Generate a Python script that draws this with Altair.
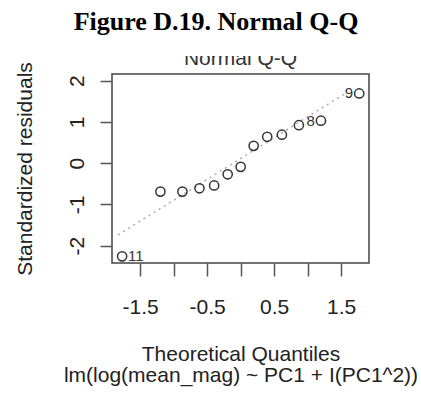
import altair as alt
import pandas as pd

# Normal Q-Q of standardized residuals, lm(log(mean_mag) ~ PC1 + I(PC1^2))
theoretical = [-1.769, -1.198, -0.869, -0.615, -0.396, -0.194, 0.0,
               0.194, 0.396, 0.615, 0.869, 1.198, 1.769]
std_resid = [-2.26, -0.69, -0.69, -0.61, -0.54, -0.27, -0.09,
             0.42, 0.64, 0.69, 0.92, 1.03, 1.69]

# flagged observations: (theoretical, residual, id)
right_ids = [(-1.769, -2.26, "11")]
left_ids = [(1.198, 1.03, "8"), (1.769, 1.69, "9")]

# reference (qqline) segment
ref_x = [-1.83, 1.55]
ref_y = [-1.74, 1.68]

x_ticks = [-1.5, -1.0, -0.5, 0.0, 0.5, 1.0, 1.5]
x_labelled = [-1.5, -0.5, 0.5, 1.5]
y_ticks = [-2, -1, 0, 1, 2]

fig_title = "Figure D.19. Normal Q-Q"
panel_title = "Normal Q-Q"
x_title = ["Theoretical Quantiles", "lm(log(mean_mag) ~ PC1 + I(PC1^2))"]
y_title = "Standardized residuals"

W, H = 257, 189
SANS = "Liberation Sans"
FS = 21

pts = pd.DataFrame({"q": theoretical, "r": std_resid})
ref = pd.DataFrame({"q": ref_x, "r": ref_y})
lab_r = pd.DataFrame(right_ids, columns=["q", "r", "id"])
lab_l = pd.DataFrame(left_ids, columns=["q", "r", "id"])

label_test = " || ".join(f"datum.value == {v}" for v in x_labelled)

xs = alt.Scale(domain=[-1.92, 1.915], nice=False, zero=False)
ys = alt.Scale(domain=[-2.421, 2.162], nice=False, zero=False)

x_enc = alt.X(
    "q:Q", scale=xs,
    axis=alt.Axis(
        values=x_ticks, labelExpr=f"({label_test}) ? '' + datum.value : ''",
        grid=False, domain=False, tickSize=13, tickWidth=1.5, tickColor="#555",
        labelFont=SANS, labelFontSize=FS, labelColor="#222", labelFlush=False,
        labelOverlap=False, labelBaseline="alphabetic", labelPadding=37,
        title=x_title, titleFont=SANS, titleFontSize=FS, titleFontWeight="normal",
        titleColor="#222", titleAlign="center", titleBaseline="alphabetic",
        titleX=W / 2, titleY=97, titleLineHeight=21,
    ),
)
y_enc = alt.Y(
    "r:Q", scale=ys,
    axis=alt.Axis(
        values=y_ticks, labelExpr="'' + datum.value",
        grid=False, domain=False, tickSize=12, tickWidth=1.5,
        tickColor="#555", labelFont=SANS, labelFontSize=FS, labelColor="#222",
        labelAngle=270, labelAlign="center", labelBaseline="alphabetic",
        labelPadding=17, labelFlush=False, labelOverlap=False,
        title=y_title, titleFont=SANS, titleFontSize=FS, titleFontWeight="normal",
        titleColor="#222", titleAngle=270, titleAlign="center",
        titleBaseline="alphabetic", titleX=-81, titleY=H / 2,
    ),
)

base = alt.Chart(pts)

points = base.mark_point(
    shape="circle", filled=False, size=85, strokeWidth=1.5, color="#333", opacity=1
).encode(x=x_enc, y=y_enc)

ref_line = alt.Chart(ref).mark_line(
    color="#aaa", strokeWidth=1.5, strokeDash=[2, 4]
).encode(x=alt.X("q:Q", scale=xs), y=alt.Y("r:Q", scale=ys))

ids_right = alt.Chart(lab_r).mark_text(
    align="left", baseline="middle", dx=6, font=SANS, fontSize=15, color="#333"
).encode(x=alt.X("q:Q", scale=xs), y=alt.Y("r:Q", scale=ys), text="id:N")

ids_left = alt.Chart(lab_l).mark_text(
    align="right", baseline="middle", dx=-6, font=SANS, fontSize=15, color="#333"
).encode(x=alt.X("q:Q", scale=xs), y=alt.Y("r:Q", scale=ys), text="id:N")

# panel caption, partly covered by the page margin above it
caption = alt.Chart(pd.DataFrame({"t": [panel_title]})).mark_text(
    align="center", baseline="alphabetic", font=SANS, fontSize=FS, color="#333"
).encode(x=alt.value(W / 2), y=alt.value(-9), text="t:N")

margin = alt.Chart(pd.DataFrame({"t": [0]})).mark_rect(color="white").encode(
    x=alt.value(-112), x2=alt.value(W + 52), y=alt.value(-74), y2=alt.value(-18)
)

heading = alt.Chart(pd.DataFrame({"t": [fig_title]})).mark_text(
    align="center", baseline="alphabetic", font="Liberation Serif",
    fontSize=26, fontWeight="bold", color="#000"
).encode(x=alt.value(104), y=alt.value(-44), text="t:N")

chart = alt.layer(
    caption, margin, heading, ref_line, points, ids_right, ids_left
).properties(
    width=W, height=H, autosize="none",
    padding={"left": 112, "top": 74, "right": 52, "bottom": 131},
    background="white",
).configure_view(stroke="#444", strokeWidth=1.5)

chart.save("out.html", embed_options={"renderer": "svg", "actions": False})
